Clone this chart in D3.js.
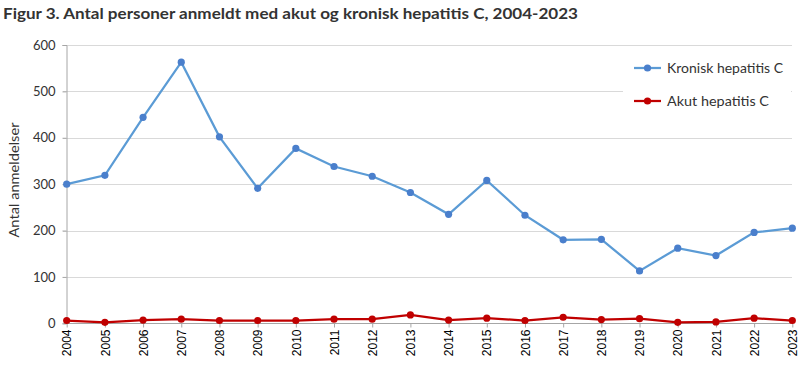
<!DOCTYPE html>
<html><head><meta charset="utf-8">
<script src="https://cdn.jsdelivr.net/npm/d3@7"></script>
<style>body{margin:0;background:#fff}svg{display:block}</style>
</head><body>
<script>
const years = ["2004","2005","2006","2007","2008","2009","2010","2011","2012","2013","2014","2015","2016","2017","2018","2019","2020","2021","2022","2023"];
const kronisk = [300,319,444,563,402,291,377,338,317,282,235,308,233,180,181,113,162,146,196,205];
const akut = [6,2,7,9,6,6,6,9,9,18,7,11,6,13,8,10,2,3,11,6];
const yTicks = [0,100,200,300,400,500,600];
const seriesNames = ["Kronisk hepatitis C","Akut hepatitis C"];

const W=800,H=369;
const font = "Lato, 'DejaVu Sans', sans-serif";
const svg = d3.select("body").append("svg").attr("width",W).attr("height",H);
const x = d3.scalePoint().domain(years).range([66.7,792.3]);
const y = d3.scaleLinear().domain([0,600]).range([323.3,45]);

svg.append("text").attr("x",3).attr("y",19).attr("font-family",font).attr("font-weight","bold")
  .attr("font-size",15.5).attr("fill","#333").attr("textLength",575).attr("lengthAdjust","spacingAndGlyphs")
  .text("Figur 3. Antal personer anmeldt med akut og kronisk hepatitis C, 2004-2023");

// grid
const g = svg.append("g");
g.selectAll("line.grid").data(yTicks.filter(d=>d>0)).join("line")
  .attr("x1",63).attr("x2",792).attr("y1",d=>Math.round(y(d))+0.5).attr("y2",d=>Math.round(y(d))+0.5)
  .attr("stroke","#d9d9d9").attr("stroke-width",1);
// y axis
const yAx = svg.append("g").attr("transform","translate(66.5,0)")
  .call(d3.axisLeft(y).tickValues(yTicks).tickSize(4).tickPadding(7));
yAx.select(".domain").attr("stroke","#a6a6a6");
yAx.selectAll(".tick line").attr("stroke","#a6a6a6");
yAx.selectAll("text").attr("font-family",font).attr("font-size",13).attr("fill","#333");
// x axis
const xAx = svg.append("g").attr("transform","translate(0,323.5)")
  .call(d3.axisBottom(x).tickSize(4).tickPadding(4));
xAx.select(".domain").attr("stroke","#a6a6a6").attr("d","M66.5,0H793");
xAx.selectAll(".tick line").attr("stroke","#a6a6a6");
xAx.selectAll("text").attr("font-family","'Liberation Sans', Arial, sans-serif").attr("font-size",12).attr("fill","#000")
  .attr("transform","rotate(-90)").attr("text-anchor","end").attr("dy","0.35em").attr("x",-6).attr("y",0);

svg.append("text").attr("transform","translate(19,180) rotate(-90)").attr("text-anchor","middle")
  .attr("font-family",font).attr("font-size",13).attr("fill","#333")
  .attr("textLength",115).attr("lengthAdjust","spacingAndGlyphs").text("Antal anmeldelser");

const line = d3.line().x((d,i)=>x(years[i])).y(d=>y(d));
const series = [{v:kronisk,line:"#5B9BD5",dot:"#4A7FCC"},{v:akut,line:"#C00000",dot:"#C00000"}];
series.forEach(s=>{
  svg.append("path").datum(s.v).attr("d",line).attr("fill","none").attr("stroke",s.line).attr("stroke-width",2.25);
  svg.selectAll(null).data(s.v).join("circle").attr("cx",(d,i)=>x(years[i])).attr("cy",d=>y(d)).attr("r",3.6).attr("fill",s.dot);
});

// legend
const lg = svg.append("g");
lg.append("rect").attr("x",623).attr("y",50).attr("width",168).attr("height",70).attr("fill","#fff");
const legLen = [116,102];
seriesNames.forEach((n,i)=>{
  const yy = 68 + i*33;
  lg.append("line").attr("x1",634).attr("x2",661).attr("y1",yy).attr("y2",yy).attr("stroke",series[i].line).attr("stroke-width",2.25);
  lg.append("circle").attr("cx",647.5).attr("cy",yy).attr("r",3.6).attr("fill",series[i].dot);
  lg.append("text").attr("x",667).attr("y",yy).attr("dy","0.35em").attr("font-family",font).attr("font-size",13.5).attr("fill","#333")
    .attr("textLength",legLen[i]).attr("lengthAdjust","spacingAndGlyphs").text(n);
});
</script>
</body></html>
